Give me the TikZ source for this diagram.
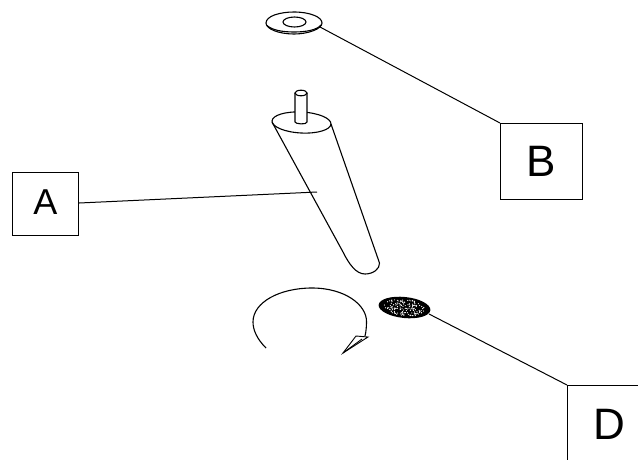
\documentclass[tikz,border=0pt]{standalone}
\usepackage{fontspec}
\setmainfont{Liberation Sans}
\begin{document}
\begin{tikzpicture}[x=1pt,y=-1pt,line width=1.1pt,
  labelbox/.style={draw,inner sep=0pt,anchor=north west},
  leader/.style={line width=1pt}]
\useasboundingbox (0,0) rectangle (638,459);
\fill[white] (0,0) rectangle (638,459);
% label boxes
\node[labelbox,minimum width=66.5pt,minimum height=62.5pt,text depth=4pt,font=\fontsize{36}{38}\selectfont] (A) at (11.5,172) {A};
\node[labelbox,minimum width=81.5pt,minimum height=76pt,font=\fontsize{44}{46}\selectfont] (B) at (500,123) {B};
\node[labelbox,minimum width=83pt,minimum height=78pt,font=\fontsize{44}{46}\selectfont] (D) at (567,385) {D};
% connector ends
\coordinate (legpt) at (317,192);
\coordinate (washerpt) at (320,27);
\coordinate (feltpt) at (429,314);
% washer
\draw (266,23) .. controls (266,16) and (280,12) .. (294,12) .. controls (310,12) and (322,17) .. (322,23)
   .. controls (322,29) and (308,34) .. (294,34) .. controls (279,34) and (266,29) .. (266,23) -- cycle;
\draw (267,25.5) .. controls (272,30) and (282,32) .. (294,32) .. controls (306,32) and (317,30) .. (321,25);
\draw (294.5,22) ellipse [x radius=11.5,y radius=5];
% leg
\draw (272,122) -- (343,252) .. controls (349,264) and (356,274) .. (365,274)
   .. controls (373,274) and (380,269) .. (379.5,263) -- (331,124);
\draw[rotate around={-3:(301.5,122.5)}] (301.5,122.5) ellipse [x radius=29.5,y radius=10.5];
% pin
\fill[white] (295,94) rectangle (307,124);
\draw (295,93) -- (295,122) .. controls (295,124) and (307,125) .. (307,122) -- (307,93);
\draw (301,93) ellipse [x radius=6,y radius=2.8];
% rotation arrow
\draw (266,348) .. controls (257,339) and (253,330) .. (253,322)
   .. controls (253,302) and (280,288) .. (312,288)
   .. controls (345,288) and (367,305) .. (366.5,322) .. controls (366.5,327) and (366,332) .. (365,336);
\draw[fill=white,line width=0.9pt] (343,353) -- (356,336) -- (368,337) -- cycle;
\draw[line width=0.9pt] (343,353) -- (362,339);
% felt pad
\fill[rotate around={-6:(404.5,307.5)}] (404.5,307.5) ellipse [x radius=26,y radius=10.5];
\pgfmathsetseed{7}
\foreach \i in {1,...,150}{
  \pgfmathsetmacro{\ang}{360*rnd}
  \pgfmathsetmacro{\rad}{0.82*sqrt(rnd)}
  \fill[white,rotate around={-6:(404.5,307.5)}] ({404.5+25*\rad*cos(\ang)},{307.5+10*\rad*sin(\ang)}) circle (0.6);
}
% connectors
\draw[leader] (A.east |- 0,203) -- (legpt);
\draw[leader] (washerpt) -- (B.north west);
\draw[leader] (feltpt) -- (D.north west);
\end{tikzpicture}
\end{document}
